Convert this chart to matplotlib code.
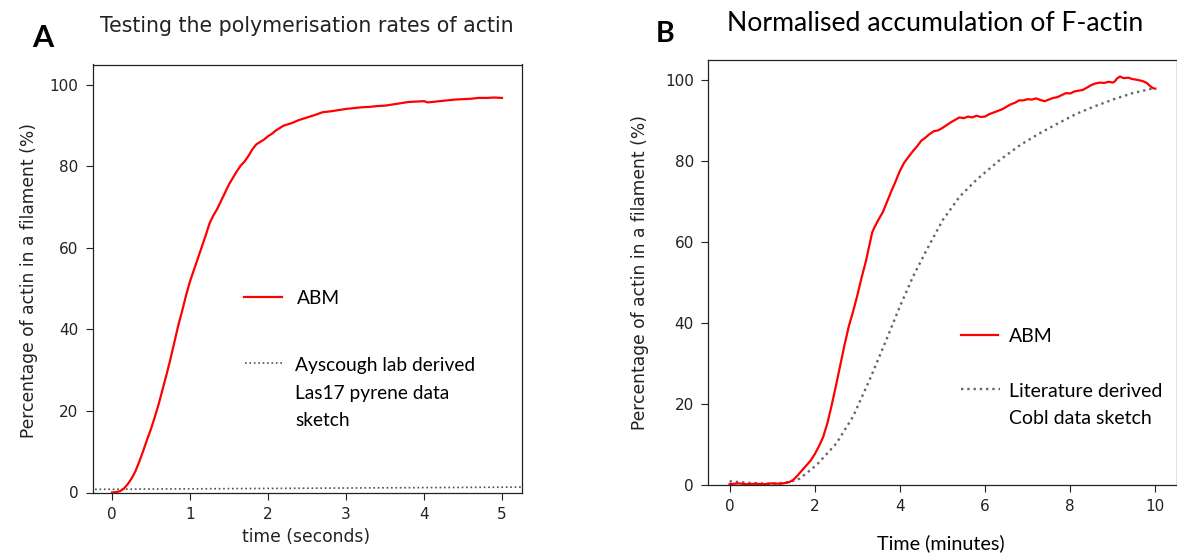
import matplotlib
matplotlib.use("Agg")
import matplotlib.pyplot as plt
from matplotlib.lines import Line2D

# ---------------- data ----------------
# Panel A: ABM simulation (time in seconds, % actin in filament)
a_abm_t = [0.0, 0.05, 0.1, 0.15, 0.2, 0.25, 0.3, 0.35, 0.4, 0.45, 0.5, 0.55, 0.6, 0.65,
           0.7, 0.75, 0.8, 0.85, 0.9, 0.95, 1.0, 1.05, 1.1, 1.15, 1.2, 1.25, 1.3, 1.35,
           1.4, 1.45, 1.5, 1.55, 1.6, 1.65, 1.7, 1.75, 1.8, 1.85, 1.9, 1.95, 2.0, 2.05,
           2.1, 2.2, 2.3, 2.4, 2.5, 2.6, 2.7, 2.8, 2.9, 3.0, 3.1, 3.2, 3.3, 3.4, 3.5,
           3.6, 3.7, 3.8, 3.9, 4.0, 4.05, 4.1, 4.2, 4.3, 4.4, 4.5, 4.6, 4.7, 4.8, 4.9, 5.0]
a_abm_v = [0.0, 0.1, 0.3, 0.9, 2.0, 3.4, 5.2, 7.6, 10.2, 13.0, 15.6, 18.6, 21.8, 25.4,
           29.0, 32.8, 36.9, 41.0, 44.6, 48.4, 51.8, 54.6, 57.4, 60.2, 63.0, 66.0, 68.0, 69.6,
           71.6, 73.6, 75.6, 77.2, 78.8, 80.2, 81.2, 82.6, 84.2, 85.4, 86.0, 86.6, 87.4, 88.0,
           88.8, 90.0, 90.6, 91.4, 92.0, 92.6, 93.3, 93.5, 93.8, 94.1, 94.3, 94.5, 94.6, 94.8, 94.9,
           95.2, 95.5, 95.8, 95.9, 96.0, 95.7, 95.8, 96.0, 96.2, 96.4, 96.5, 96.6, 96.8, 96.8, 96.9, 96.8]

# Panel A: Ayscough lab derived Las17 pyrene data sketch
a_lab_t = [-0.5, 0.0, 1.0, 2.0, 3.0, 4.0, 5.0, 5.5]
a_lab_v = [0.75, 0.8, 0.9, 1.0, 1.1, 1.2, 1.3, 1.35]

# Panel B: ABM simulation (time in minutes)
b_abm_t = [0.0, 0.2, 0.4, 0.6, 0.8, 1.0, 1.2, 1.3, 1.4, 1.5, 1.6, 1.7, 1.8, 1.9, 2.0,
           2.1, 2.2, 2.3, 2.4, 2.5, 2.6, 2.7, 2.8, 2.9, 3.0, 3.1, 3.2, 3.3, 3.35, 3.4, 3.5,
           3.6, 3.7, 3.8, 3.9, 4.0, 4.1, 4.2, 4.3, 4.4, 4.5, 4.6, 4.7, 4.8, 4.9, 5.0,
           5.1, 5.2, 5.3, 5.4, 5.5, 5.6, 5.7, 5.8, 5.9, 6.0, 6.1, 6.2, 6.3, 6.4, 6.5,
           6.6, 6.7, 6.8, 6.9, 7.0, 7.1, 7.2, 7.3, 7.4, 7.5, 7.6, 7.7, 7.8, 7.9, 8.0,
           8.1, 8.2, 8.3, 8.4, 8.5, 8.6, 8.7, 8.8, 8.9, 9.0, 9.05, 9.1, 9.17, 9.25, 9.37,
           9.45, 9.56, 9.65, 9.72, 9.8, 9.88, 9.95, 10.0]
b_abm_v = [0.2, 0.4, 0.2, 0.3, 0.2, 0.4, 0.3, 0.5, 0.7, 1.3, 2.4, 3.6, 4.8, 6.0, 7.6,
           9.6, 11.9, 15.4, 19.8, 24.6, 29.6, 34.6, 39.2, 42.8, 46.8, 51.2, 55.2, 60.0, 62.4, 63.6, 65.6,
           67.4, 70.0, 72.6, 75.0, 77.6, 79.6, 81.0, 82.4, 83.6, 85.0, 85.8, 86.7, 87.4, 87.6, 88.2,
           88.9, 89.6, 90.2, 90.8, 90.6, 91.0, 90.8, 91.2, 90.9, 91.0, 91.6, 92.0, 92.4, 92.8, 93.4,
           94.0, 94.4, 95.0, 95.0, 95.3, 95.2, 95.5, 95.1, 94.8, 95.2, 95.6, 95.8, 96.3, 96.8, 96.7,
           97.2, 97.4, 97.6, 98.2, 98.8, 99.2, 99.4, 99.3, 99.6, 99.4, 99.7, 100.4, 100.9, 100.5, 100.6,
           100.3, 100.1, 99.9, 99.7, 99.3, 98.5, 98.0, 97.9]

# Panel B: literature derived Cobl data sketch
b_lit_t = [0.0, 0.5, 1.0, 1.4, 1.65, 2.04, 2.51, 2.9, 3.29, 3.68, 4.0, 4.31, 4.63, 5.01,
           5.41, 5.8, 6.35, 6.83, 7.27, 7.71, 8.15, 8.59, 9.03, 9.47, 10.0]
b_lit_v = [0.9, 0.5, 0.3, 0.7, 1.6, 4.9, 10.3, 16.9, 26.0, 35.8, 44.1, 51.5, 58.1, 65.5,
           71.3, 75.4, 80.3, 84.0, 86.8, 89.3, 91.7, 93.6, 95.3, 96.8, 98.1]

a_xticks = [0, 1, 2, 3, 4, 5]
b_xticks = [0, 2, 4, 6, 8, 10]
yticks = [0, 20, 40, 60, 80, 100]

# ---------------- layout helpers ----------------
W, H = 1177, 553
fig = plt.figure(figsize=(W / 100, H / 100), dpi=100)

def fx(px):
    return px / W

def fy(py):
    return 1 - py / H

DJ = "DejaVu Sans"
CAL = ["Lato", "DejaVu Sans"]
TXT = "#222222"

def style_axes(ax):
    ax.tick_params(axis="both", labelsize=11, length=4.8, width=0.8, pad=5.5,
                   colors="#222222", labelcolor=TXT)
    for s in ax.spines.values():
        s.set_linewidth(0.9)
        s.set_color("#222222")

# ---------------- Panel A ----------------
axA = fig.add_axes([fx(92.5), fy(492.5), fx(521.5 - 92.5), (492.5 - 64.5) / H])
axA.plot(a_lab_t, a_lab_v, linestyle=":", color="#505050", linewidth=1.2)
axA.plot(a_abm_t, a_abm_v, color="#ff0000", linewidth=1.6)
axA.set_xlim(-0.25, 5.25)
axA.set_ylim(0, 105)
axA.set_xticks(a_xticks)
axA.set_yticks(yticks)
style_axes(axA)
axA.set_ylabel("Percentage of actin in a filament (%)", fontsize=12.3, family=DJ, color=TXT)
axA.set_xlabel("time (seconds)", fontsize=12.3, family=DJ, color=TXT)
axA.yaxis.set_label_coords(fx(29.4), fy(280), transform=fig.transFigure)
axA.yaxis.label.set_va("center")
axA.xaxis.set_label_coords(fx(306), fy(541.5), transform=fig.transFigure)
axA.xaxis.label.set_va("baseline")

# legend A (keys drawn in axes fraction)
axA.add_line(Line2D([0.353, 0.4406], [0.4568, 0.4568], transform=axA.transAxes,
                    color="#ff0000", linewidth=1.6))
axA.add_line(Line2D([0.3555, 0.445], [0.3033, 0.3033], transform=axA.transAxes,
                    color="#505050", linewidth=1.2, linestyle=":"))
fig.text(fx(296.7), fy(304.3), "ABM", family=CAL, fontsize=13.8, va="baseline", ha="left", color="black")
fig.text(fx(295), fy(371), "Ayscough lab derived", family=CAL, fontsize=13.8, va="baseline", ha="left", color="black")
fig.text(fx(295), fy(398.5), "Las17 pyrene data", family=CAL, fontsize=13.8, va="baseline", ha="left", color="black")
fig.text(fx(295), fy(426), "sketch", family=CAL, fontsize=13.8, va="baseline", ha="left", color="black")

fig.text(fx(307), fy(32), "Testing the polymerisation rates of actin", family=DJ,
         fontsize=14.8, ha="center", va="baseline", color=TXT)
fig.text(fx(31.7), fy(47.3), "A", family=CAL, fontsize=22, fontweight="bold", ha="left", va="baseline")

# ---------------- Panel B ----------------
axB = fig.add_axes([fx(708.3), fy(485), fx(1176.6 - 708.3), (485 - 59.9) / H])
axB.plot(b_lit_t, b_lit_v, linestyle=":", color="#666666", linewidth=1.7)
axB.plot(b_abm_t, b_abm_v, color="#ff0000", linewidth=1.6)
axB.set_xlim(-0.5, 10.5)
axB.set_ylim(0, 105)
axB.set_xticks(b_xticks)
axB.set_yticks(yticks)
style_axes(axB)
axB.set_ylabel("Percentage of actin in a filament (%)", fontsize=12.3, family=DJ, color=TXT)
axB.yaxis.set_label_coords(fx(639.8), fy(273), transform=fig.transFigure)
axB.yaxis.label.set_va("center")
axB.set_xlabel("Time (minutes)", fontsize=14.2, family=CAL, color="black")
axB.xaxis.set_label_coords(fx(941), fy(549.3), transform=fig.transFigure)
axB.xaxis.label.set_va("baseline")

axB.add_line(Line2D([0.5388, 0.6186], [0.3529, 0.3529], transform=axB.transAxes,
                    color="#ff0000", linewidth=1.6))
axB.add_line(Line2D([0.5401, 0.6227], [0.2252, 0.2252], transform=axB.transAxes,
                    color="#666666", linewidth=1.7, linestyle=":"))
fig.text(fx(1009), fy(342.3), "ABM", family=CAL, fontsize=14.0, va="baseline", ha="left", color="black")
fig.text(fx(1009), fy(397.3), "Literature derived", family=CAL, fontsize=14.0, va="baseline", ha="left", color="black")
fig.text(fx(1009), fy(424), "Cobl data sketch", family=CAL, fontsize=14.0, va="baseline", ha="left", color="black")

fig.text(fx(935), fy(31), "Normalised accumulation of F-actin", family=CAL, fontsize=19.2,
         ha="center", va="baseline", color="black")
fig.text(fx(655.5), fy(41.6), "B", family=CAL, fontsize=20.5, fontweight="bold", ha="left", va="baseline")

fig.savefig("out.png", dpi=100)
